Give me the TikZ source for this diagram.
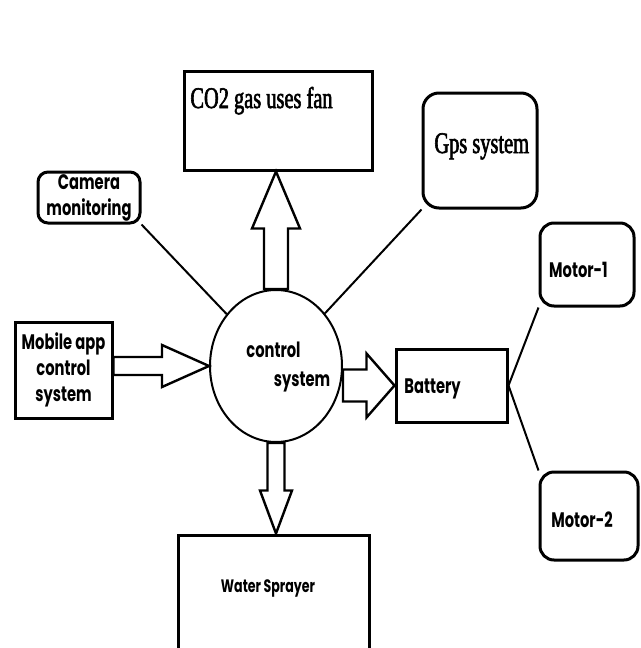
\documentclass[tikz,border=0pt]{standalone}
\usepackage{fontspec}
\setmainfont{Liberation Serif}
\newfontfamily\labelfont[FakeStretch=0.7]{Poppins}
\newfontfamily\titlefont[FakeStretch=0.68, FakeBold=2]{Liberation Serif}
\usepackage{tikz}
\usetikzlibrary{shapes.geometric, calc}

\tikzset{
	box/.style={draw, rectangle, line width=1.5pt, inner sep=0pt},
	roundbox/.style={box, rounded corners=#1},
	lbl/.style={font=\labelfont\bfseries\fontsize{10.5}{13}\selectfont, inner sep=0pt, align=center},
	ttl/.style={font=\titlefont\fontsize{15}{17}\selectfont, inner sep=0pt},
	link/.style={line width=1pt},
	fat/.style n args={3}{line width=1.2pt, line join=miter, to path={
		($(\tikztostart)!#1!90:(\tikztotarget)$)
		-- ($(\tikztotarget)!#3!(\tikztostart)!#1!-90:(\tikztostart)$)
		-- ($(\tikztotarget)!#3!(\tikztostart)!#2!-90:(\tikztostart)$)
		-- (\tikztotarget)
		-- ($(\tikztotarget)!#3!(\tikztostart)!#2!90:(\tikztostart)$)
		-- ($(\tikztotarget)!#3!(\tikztostart)!#1!90:(\tikztostart)$)
		-- ($(\tikztostart)!#1!-90:(\tikztotarget)$)
		-- cycle}}
}

\begin{document}
\begin{tikzpicture}[x=0.5pt, y=-0.5pt]
	\useasboundingbox (0,0) rectangle (641,648);

	% boxes
	\node[box, minimum width=94pt, minimum height=49.5pt] (co2) at (278,120.5) {};
	\node[ttl, anchor=base west] (co2txt) at (190,108) {CO2 gas uses fan};
	\node[roundbox=5pt, minimum width=51pt, minimum height=25.5pt, lbl] (cam) at (89,197.5) {Camera\\monitoring};
	\node[roundbox=8pt, minimum width=57pt, minimum height=57.5pt] (gps) at (480,150.5) {};
	\node[ttl, anchor=base west] (gpstxt) at (434,153) {Gps system};
	\node[box, minimum width=48.5pt, minimum height=48pt, lbl] (mob) at (63.5,370) {Mobile app\\control\\system};
	\node[draw, ellipse, line width=1pt, minimum width=66pt, minimum height=76pt] (cs) at (276,366) {};
	\node[lbl] (cstop) at (273.5,350) {control};
	\node[lbl] (csbot) at (302,382) {system};
	\node[box, minimum width=55.5pt, minimum height=36.5pt] (bat) at (451.5,385.5) {};
	\node[lbl, anchor=west] (battxt) at (404,389) {Battery};
	\node[roundbox=7pt, minimum width=47pt, minimum height=41.5pt] (m1) at (587,264.5) {};
	\node[lbl] (m1txt) at (578.5,270) {Motor-1};
	\node[roundbox=7pt, minimum width=49pt, minimum height=44pt] (m2) at (589,516) {};
	\node[lbl] (m2txt) at (582,520) {Motor-2};
	\node[box, minimum width=95.5pt, minimum height=65pt] (spr) at (273.5,600) {};
	\node[lbl, font=\labelfont\bfseries\fontsize{9}{11}\selectfont] (sprtxt) at (268,588) {Water Sprayer};

	% block arrows
	\draw[fat={6pt}{12pt}{28.5pt}] (cs.north) to (cs.north |- co2.south);
	\draw[fat={4.5pt}{10.5pt}{23.5pt}] (mob.east |- cs.west) to (cs.west);
	\draw[fat={8pt}{16pt}{14pt}] (cs.east |- bat.west) to (bat.west);
	\draw[fat={4.25pt}{8pt}{21.5pt}] (cs.south) to (cs.south |- spr.north);

	% plain links
	\draw[link] (cam.south east) -- (cs);
	\draw[link] (gps.south west) -- (cs);
	\draw[link] (bat.east) -- (m1.south west);
	\draw[link] (bat.east) -- (m2.north west);
\end{tikzpicture}
\end{document}
